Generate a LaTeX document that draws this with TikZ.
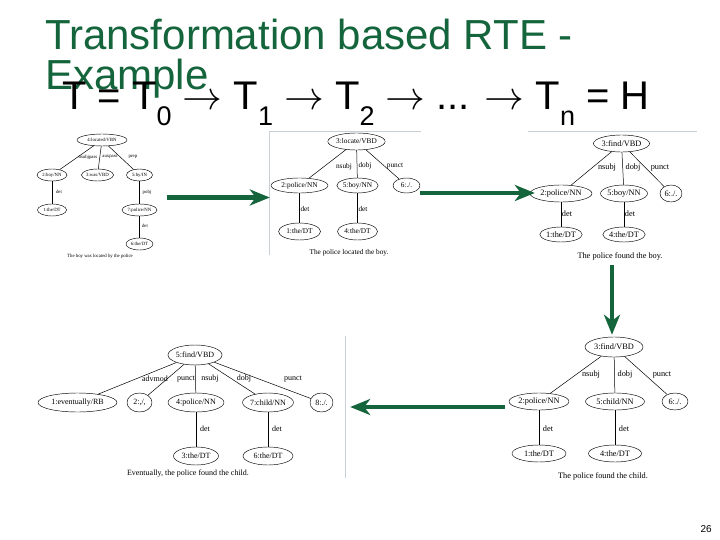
\documentclass[tikz,border=0pt]{standalone}
\usepackage{graphicx}
\usepackage{fontspec}
\setmainfont{Liberation Serif}
\newfontfamily\slidesans{Liberation Sans}
\usetikzlibrary{shapes.geometric,arrows.meta}
\definecolor{slidegreen}{RGB}{20,100,60}
\definecolor{framegray}{RGB}{200,208,214}
\newcommand\subsc[1]{\raisebox{-16pt}{\fontsize{27}{27}\selectfont #1}}
\newcommand\chainarrow{\scalebox{1.6}{$\rightarrow$}}
\tikzset{
  tnode/.style 2 args={ellipse, draw=black, line width=0.45pt, inner sep=0pt, minimum width=#1, minimum height=#2},
  tedge/.style={draw=black, line width=0.5pt},
  elab/.style={inner sep=0pt},
  capt/.style={inner sep=0pt},
  imgbox/.style={inner sep=0pt, draw=none},
  frameline/.style={draw=framegray, line width=0.8pt},
  bigarrow/.style={draw=slidegreen, line width=4.6pt, -{Stealth[length=20pt,width=16pt,inset=6pt]}},
}
\begin{document}
\begin{tikzpicture}[x=1pt,y=-1pt]
\useasboundingbox (0,0) rectangle (720,540);
\fill[white] (0,0) rectangle (720,540);

% title
\node[anchor=base west, inner sep=0pt, text=slidegreen, font=\slidesans\fontsize{42}{42}\selectfont] (title1) at (45,50) {Transformation based RTE -};
\node[anchor=base west, inner sep=0pt, text=slidegreen, font=\slidesans\fontsize{42}{42}\selectfont] (title2) at (45,90) {Example};
\node[anchor=base west, inner sep=0pt, font=\slidesans\fontsize{40}{40}\selectfont] (chain) at (62,110) {T = T\subsc{0} \chainarrow{} T\subsc{1} \chainarrow{} T\subsc{2} \chainarrow{} ... \chainarrow{} T\subsc{n} = H};

% image areas
\node[imgbox, minimum width=137pt, minimum height=137pt] (img1) at (98.5,197.5) {};
\node[imgbox, minimum width=150pt, minimum height=124pt] (img2) at (345,193) {};
\node[imgbox, minimum width=170pt, minimum height=134pt] (img3) at (612,198) {};
\node[imgbox, minimum width=325pt, minimum height=140pt] (img4) at (182.5,407) {};
\node[imgbox, minimum width=192pt, minimum height=150pt] (img5) at (601,410) {};

% screenshot frame edges
\draw[frameline] (269,131) -- (421,131);
\draw[frameline] (269,131) -- (269,255);
\draw[frameline] (528,131) -- (697,131);
\draw[frameline] (345,336) -- (345,478);

% ---------- tree 1 ----------
\begin{scope}[font=\fontsize{4.8}{5.5}\selectfont]
\node[tnode={50pt}{12pt}] (a4) at (102,140) {4:located/VBN};
\node[tnode={30pt}{12pt}] (a2) at (52,175) {2:boy/NN};
\node[tnode={30pt}{12pt}] (a3) at (97.5,175) {3:was/VBD};
\node[tnode={26pt}{12pt}] (a5) at (139.5,175) {5:by/IN};
\node[tnode={29pt}{12pt}] (a1) at (52,210) {1:the/DT};
\node[tnode={35pt}{12pt}] (a7) at (139.5,210) {7:police/NN};
\node[tnode={27pt}{12pt}] (a6) at (139.5,244) {6:the/DT};
\draw[tedge] (a4) -- (a2);
\draw[tedge] (a4) -- (a3);
\draw[tedge] (a4) -- (a5);
\draw[tedge] (a2) -- (a1);
\draw[tedge] (a5) -- (a7);
\draw[tedge] (a7) -- (a6);
\node[elab] (la1) at (88,157) {nsubjpass};
\node[elab] (la2) at (110,157) {auxpass};
\node[elab] (la3) at (133,157) {prep};
\node[elab] (la4) at (59,192) {det};
\node[elab] (la5) at (147,192) {pobj};
\node[elab] (la6) at (145,226) {det};
\node[capt] (ca) at (100,256) {The boy was located by the police};
\end{scope}

% ---------- tree 2 ----------
\begin{scope}[font=\fontsize{7.3}{8}\selectfont]
\node[tnode={53pt}{17pt}] (b3) at (356.5,141.5) {3:locate/VBD};
\node[tnode={57pt}{15pt}] (b2) at (299.5,185.5) {2:police/NN};
\node[tnode={41pt}{15pt}] (b5) at (357.5,185.5) {5:boy/NN};
\node[tnode={27pt}{15pt}] (b6) at (406.5,185.5) {6:./.};
\node[tnode={42pt}{17pt}] (b1) at (299.5,231.5) {1:the/DT};
\node[tnode={40pt}{17pt}] (b4) at (357.5,231.5) {4:the/DT};
\draw[tedge] (b3) -- (b2);
\draw[tedge] (b3) -- (b5);
\draw[tedge] (b3) -- (b6);
\draw[tedge] (b2) -- (b1);
\draw[tedge] (b5) -- (b4);
\node[elab] (lb1) at (344,167) {nsubj};
\node[elab] (lb2) at (365,166) {dobj};
\node[elab] (lb3) at (395,166) {punct};
\node[elab] (lb4) at (305,209) {det};
\node[elab] (lb5) at (363,209) {det};
\node[capt] (cb) at (349,253) {The police located the boy.};
\end{scope}

% ---------- tree 3 ----------
\begin{scope}[font=\fontsize{8.3}{9}\selectfont]
\node[tnode={47pt}{17pt}] (c3) at (621.5,143.5) {3:find/VBD};
\node[tnode={62pt}{17pt}] (c2) at (561,193.5) {2:police/NN};
\node[tnode={43pt}{17pt}] (c5) at (624,193.5) {5:boy/NN};
\node[tnode={22pt}{17pt}] (c6) at (671,193.5) {6:./.};
\node[tnode={40pt}{15pt}] (c1) at (561,234.5) {1:the/DT};
\node[tnode={42pt}{15pt}] (c4) at (624,234.5) {4:the/DT};
\draw[tedge] (c3) -- (c2);
\draw[tedge] (c3) -- (c5);
\draw[tedge] (c3) -- (c6);
\draw[tedge] (c2) -- (c1);
\draw[tedge] (c5) -- (c4);
\node[elab] (lc1) at (607,168) {nsubj};
\node[elab] (lc2) at (633,168) {dobj};
\node[elab] (lc3) at (660,168) {punct};
\node[elab] (lc4) at (567,214) {det};
\node[elab] (lc5) at (630,214) {det};
\node[capt] (cc) at (620,256) {The police found the boy.};
\end{scope}

% ---------- tree 4 ----------
\begin{scope}[font=\fontsize{8}{9}\selectfont]
\node[tnode={52pt}{20pt}] (d5) at (195,355) {5:find/VBD};
\node[tnode={79pt}{19pt}] (d1) at (77.5,402.5) {1:eventually/RB};
\node[tnode={25pt}{19pt}] (d2) at (139.5,402.5) {2:,/,};
\node[tnode={55pt}{19pt}] (d4) at (196,402.5) {4:police/NN};
\node[tnode={48pt}{19pt}] (d7) at (268,402.5) {7:child/NN};
\node[tnode={23pt}{19pt}] (d8) at (321.5,402.5) {8:./.};
\node[tnode={45pt}{18pt}] (d3) at (196,456) {3:the/DT};
\node[tnode={50pt}{18pt}] (d6) at (268,456) {6:the/DT};
\draw[tedge] (d5) -- (d1);
\draw[tedge] (d5) -- (d2);
\draw[tedge] (d5) -- (d4);
\draw[tedge] (d5) -- (d7);
\draw[tedge] (d5) -- (d8);
\draw[tedge] (d4) -- (d3);
\draw[tedge] (d7) -- (d6);
\node[elab] (ld1) at (155,379) {advmod};
\node[elab] (ld2) at (186,379) {punct};
\node[elab] (ld3) at (210,379) {nsubj};
\node[elab] (ld4) at (244,379) {dobj};
\node[elab] (ld5) at (293,379) {punct};
\node[elab] (ld6) at (205,429) {det};
\node[elab] (ld7) at (277,429) {det};
\node[capt] (cd) at (188,474) {Eventually, the police found the child.};
\end{scope}

% ---------- tree 5 ----------
\begin{scope}[font=\fontsize{8.3}{9}\selectfont]
\node[tnode={58pt}{20pt}] (e3) at (614,347) {3:find/VBD};
\node[tnode={60pt}{17pt}] (e2) at (539,401.5) {2:police/NN};
\node[tnode={59pt}{17pt}] (e5) at (615,401.5) {5:child/NN};
\node[tnode={26pt}{17pt}] (e6) at (675,401.5) {6:./.};
\node[tnode={54pt}{17pt}] (e1) at (539,453.5) {1:the/DT};
\node[tnode={53pt}{17pt}] (e4) at (615,453.5) {4:the/DT};
\draw[tedge] (e3) -- (e2);
\draw[tedge] (e3) -- (e5);
\draw[tedge] (e3) -- (e6);
\draw[tedge] (e2) -- (e1);
\draw[tedge] (e5) -- (e4);
\node[elab] (le1) at (591,375) {nsubj};
\node[elab] (le2) at (625,375) {dobj};
\node[elab] (le3) at (662,375) {punct};
\node[elab] (le4) at (548,429) {det};
\node[elab] (le5) at (624,429) {det};
\node[capt] (ce) at (603,476) {The police found the child.};
\end{scope}

% ---------- transformation arrows ----------
\draw[bigarrow] (img1.east) -- (img1.east -| img2.west);
\draw[bigarrow] (img2.east) -- ([xshift=8pt]img2.east -| img3.west);
\draw[bigarrow] (img3.south) -- (img3.south |- img5.north);
\draw[bigarrow] (img5.west |- img4.east) -- ([xshift=5pt]img4.east);

% page number
\node[anchor=base east, inner sep=0pt, font=\slidesans\fontsize{10}{10}\selectfont] (pg) at (712,532) {26};
\end{tikzpicture}
\end{document}
